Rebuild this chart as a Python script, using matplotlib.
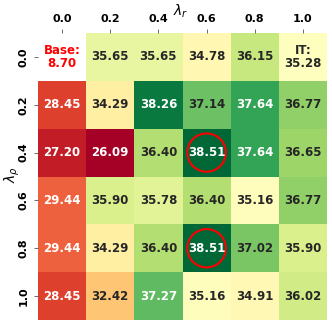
import numpy as np
import matplotlib
matplotlib.use('Agg')
import matplotlib.pyplot as plt
from matplotlib.colors import TwoSlopeNorm, to_rgb
from matplotlib.patches import Circle

LAMBDA_R = ['0.0', '0.2', '0.4', '0.6', '0.8', '1.0']
LAMBDA_RHO = ['0.0', '0.2', '0.4', '0.6', '0.8', '1.0']
BASE_SCORE = 8.70
IT_SCORE = 35.28
SCORES = [
    [np.nan, 35.65, 35.65, 34.78, 36.15, 35.28],
    [28.45, 34.29, 38.26, 37.14, 37.64, 36.77],
    [27.20, 26.09, 36.40, 38.51, 37.64, 36.65],
    [29.44, 35.90, 35.78, 36.40, 35.16, 36.77],
    [29.44, 34.29, 36.40, 38.51, 37.02, 35.90],
    [28.45, 32.42, 37.27, 35.16, 34.91, 36.02],
]
HIGHLIGHT = [(2, 3), (4, 3)]  # (row, col) of best cells


def luminance(color):
    rgb = np.array(to_rgb(color))
    rgb = np.where(rgb <= .03928, rgb / 12.92, ((rgb + .055) / 1.055) ** 2.4)
    return rgb.dot([.2126, .7152, .0722])


def draw_heatmap(data):
    fig = plt.figure(figsize=(3.32, 3.25), dpi=100)
    ax = fig.add_axes([38 / 332, 5 / 325, 289 / 332, 287 / 325])

    masked = np.ma.masked_invalid(data)
    norm = TwoSlopeNorm(vmin=np.nanmin(data), vcenter=IT_SCORE, vmax=np.nanmax(data))
    cmap = plt.get_cmap('RdYlGn')
    ax.pcolormesh(masked, cmap=cmap, norm=norm)

    for i in range(data.shape[0]):
        for j in range(data.shape[1]):
            v = data[i, j]
            if np.isnan(v):
                continue
            c = cmap(norm(v))
            tc = '#262626' if luminance(c) > .408 else 'white'
            txt = f'{v:.2f}'
            if (i, j) == (0, 5):
                txt = f'IT:\n{IT_SCORE:.2f}'
            ax.text(j + 0.5, i + 0.5, txt, ha='center', va='center',
                    fontsize=8.5, fontweight='bold', color=tc, linespacing=1.0)

    ax.text(0.5, 0.5, f'Base:\n{BASE_SCORE:.2f}', ha='center', va='center',
            fontsize=8.5, fontweight='bold', color='red', linespacing=1.0)

    for r, c in HIGHLIGHT:
        ax.add_patch(Circle((c + 0.5, r + 0.5), 0.4, fill=False,
                            edgecolor='red', linewidth=1.5))

    ax.set_xlim(0, data.shape[1])
    ax.set_ylim(data.shape[0], 0)
    ax.set_aspect('auto')
    for s in ax.spines.values():
        s.set_visible(False)

    ax.xaxis.tick_top()
    ax.set_xticks(np.arange(data.shape[1]) + 0.5)
    ax.set_xticklabels(LAMBDA_R, fontsize=8, fontweight='bold')
    ax.set_yticks(np.arange(data.shape[0]) + 0.5)
    ax.set_yticklabels(LAMBDA_RHO, fontsize=8, fontweight='bold',
                       rotation=90, va='center')
    ax.tick_params(length=3, width=0.6, color='#555555')

    # axis titles placed by hand so they stay inside the small canvas
    fig.text(181 / 332, 1 - 11 / 325, r'$\lambda_r$', fontsize=10,
             ha='center', va='center')
    fig.text(12.5 / 332, 1 - 175 / 325, r'$\lambda_\rho$', fontsize=10,
             ha='center', va='center', rotation=90)

    fig.savefig('out.png', dpi=100)


if __name__ == '__main__':
    draw_heatmap(np.array(SCORES))
